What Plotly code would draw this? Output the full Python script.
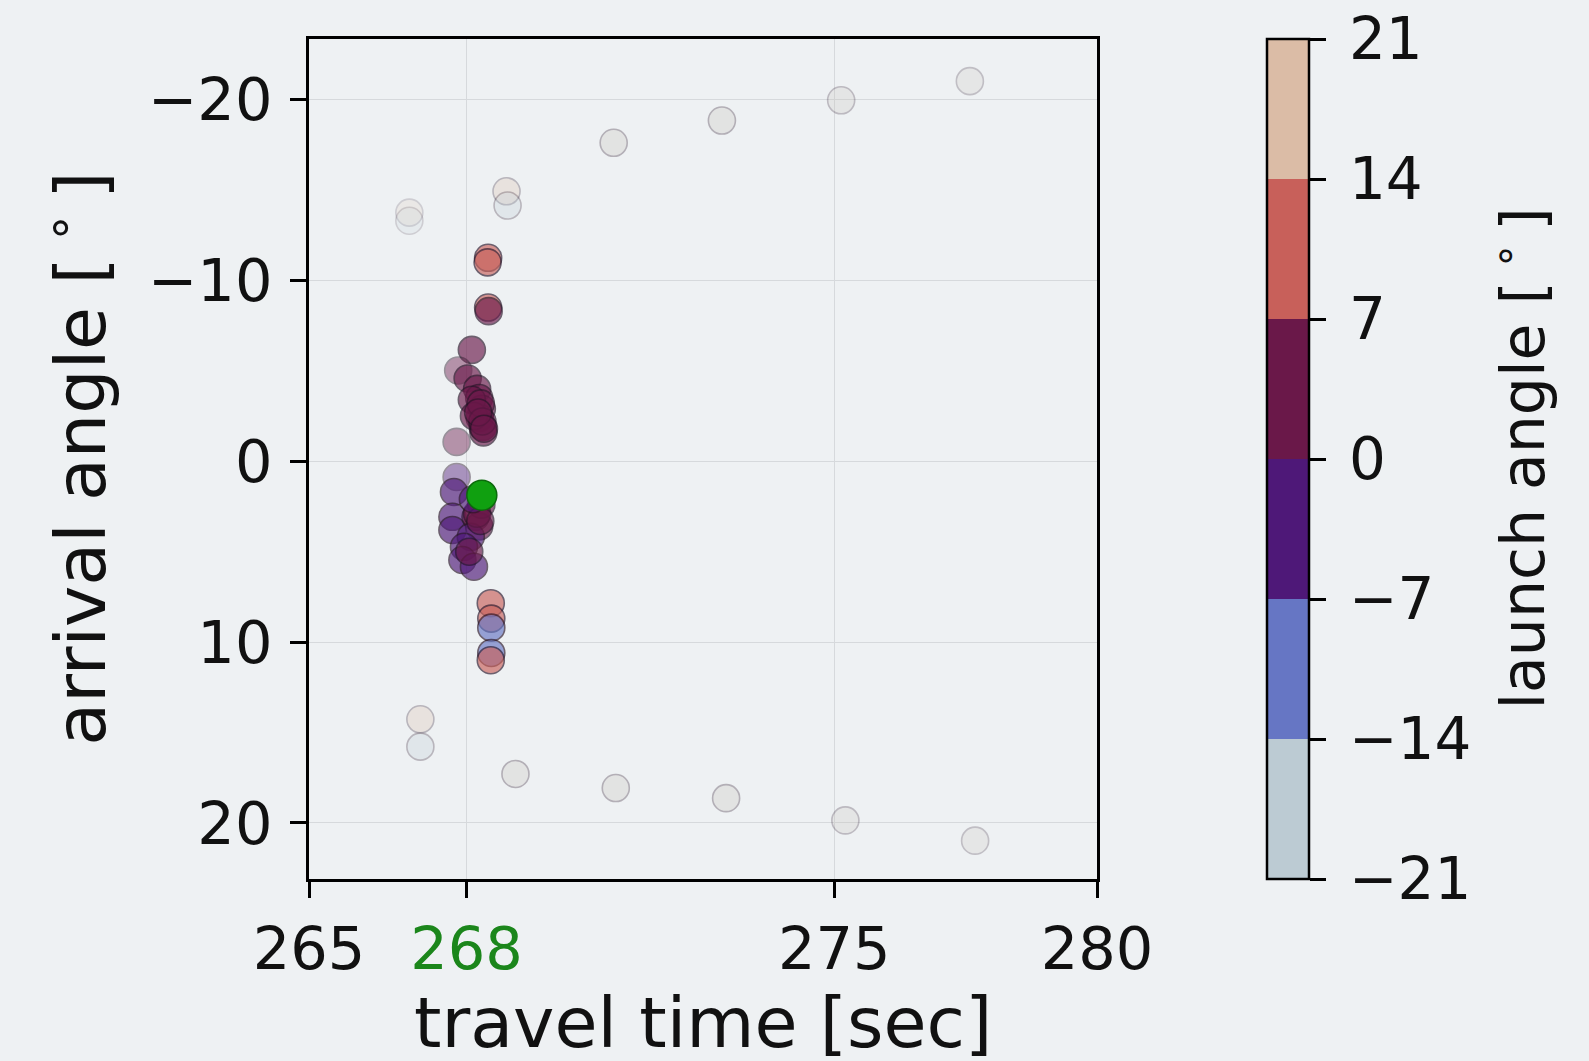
import plotly.graph_objects as go

# Ray-tracing results: travel time [s], arrival angle [deg], launch angle [deg]
# and relative amplitude of each eigenray (weak rays are drawn faded).
travel_time = [
    # weak, steep rays (upper branch)
    266.91, 266.91, 268.76, 268.78, 270.80, 270.80, 272.86, 272.86,
    275.13, 275.13, 277.58, 277.58,
    # weak, steep rays (lower branch)
    267.12, 267.12, 268.93, 268.93, 270.84, 270.84, 272.94, 272.94,
    275.21, 275.21, 277.68, 277.68,
    # main arrival cluster
    268.41, 268.40, 268.41, 268.42, 268.10, 267.84, 268.02, 268.20,
    268.24, 268.29, 268.25, 268.31, 268.32, 268.10, 268.14, 267.81,
    267.81, 267.76, 267.73, 267.73, 268.17, 268.24, 268.08, 267.95,
    267.92, 268.14, 268.28, 268.46, 268.47, 268.47, 268.47, 268.46,
    268.27, 268.30, 268.22, 268.33, 268.20, 268.26, 268.12, 268.05,
]
arrival_angle = [
    -13.75, -13.30, -14.93, -14.14, -17.61, -17.61, -18.84, -18.84,
    -19.96, -19.96, -21.02, -21.02,
    14.27, 15.78, 17.29, 17.29, 18.07, 18.07, 18.63, 18.63,
    19.86, 19.86, 20.98, 20.98,
    -11.25, -11.00, -8.50, -8.30, -6.16, -5.02, -4.58, -4.00,
    -3.50, -2.90, -2.40, -1.90, -1.60, -3.40, -2.50, -1.07,
    0.87, 1.70, 3.07, 3.80, 3.07, 3.60, 4.18, 4.73,
    5.46, 5.83, 2.40, 7.85, 8.70, 9.20, 10.60, 11.00,
    -3.20, -2.20, -2.70, -1.80, 2.90, 3.30, 2.10, 5.00,
]
launch_angle = [
    18, -18, 17, -17, 19, -19, 19, -19,
    20, -20, 20, -20,
    17, -17, 18, -18, 19, -19, 19, -19,
    20, -20, 20, -20,
    10, 12, 8, 5, 4, 3, 3, 2,
    2, 1, 2, 1, 1, 3, 2, 2,
    -2, -3, -4, -5, 1, 2, -1, -2,
    -4, -3, 1, 9, 10, -9, -10, 11,
    1, 1, 2, 1, 1, 2, -1, 1,
]
amplitude = [
    0.10, 0.10, 0.30, 0.30, 0.10, 0.10, 0.10, 0.10,
    0.05, 0.05, 0.03, 0.03,
    0.30, 0.30, 0.10, 0.10, 0.10, 0.10, 0.10, 0.10,
    0.05, 0.05, 0.03, 0.03,
    1.0, 1.0, 1.0, 1.0, 1.0, 0.6, 1.0, 1.0,
    1.0, 1.0, 1.0, 1.0, 1.0, 1.0, 1.0, 0.6,
    0.6, 1.0, 1.0, 1.0, 1.0, 1.0, 1.0, 1.0,
    1.0, 1.0, 1.0, 1.0, 1.0, 1.0, 1.0, 1.0,
    1.0, 1.0, 1.0, 1.0, 1.0, 1.0, 1.0, 1.0,
]

# Observed arrival
observed_time = [268.29]
observed_angle = [1.88]

x_ticks = [265, 268, 275, 280]
y_ticks = [-20, -10, 0, 10, 20]
cbar_ticks = [-21, -14, -7, 0, 7, 14, 21]

# Discrete twilight-like palette, one colour per 7-degree bin
bin_colors = ["#bccbd3", "#6676c4", "#4e1878", "#6a1849", "#c8605a", "#dbbca6"]
n_bins = len(bin_colors)
colorscale = []
for i, c in enumerate(bin_colors):
    colorscale.append([i / n_bins, c])
    colorscale.append([(i + 1) / n_bins, c])

FONT = "DejaVu Sans"
BG = "#eef1f3"


def minus(v):
    return str(v).replace("-", "\u2212")


opacity = [0.10 + 0.55 * a for a in amplitude]

fig = go.Figure()
fig.add_trace(go.Scatter(
    x=travel_time, y=arrival_angle, mode="markers",
    marker=dict(
        size=27, color=launch_angle, colorscale=colorscale,
        cmin=-21, cmax=21, opacity=opacity,
        line=dict(color="rgb(40,20,40)", width=1.6),
        showscale=True,
        colorbar=dict(
            tickmode="array", tickvals=cbar_ticks,
            ticktext=["\u2009" + minus(v) for v in cbar_ticks],
            ticks="outside", ticklen=16, tickwidth=2.5, tickcolor="black",
            tickfont=dict(family=FONT, size=58, color="#111111"),
            thicknessmode="pixels", thickness=42,
            lenmode="fraction", len=1.0, y=0.5, yanchor="middle",
            xref="container", x=1267 / 1589, xanchor="left",
            xpad=0, ypad=0, outlinewidth=2.5, outlinecolor="black",
        ),
    ),
    showlegend=False, hoverinfo="skip",
))
fig.add_trace(go.Scatter(
    x=observed_time, y=observed_angle, mode="markers",
    marker=dict(size=30, color="#10a010", line=dict(color="#0c6a0c", width=1.5)),
    showlegend=False, hoverinfo="skip",
))

axis_common = dict(
    showline=True, linecolor="black", linewidth=2.5, mirror=True,
    ticks="outside", ticklen=16, tickwidth=2.5, tickcolor="black",
    showgrid=True, gridcolor="#d6d9dc", gridwidth=1.2,
    zeroline=False, tickfont=dict(family=FONT, size=59, color="#111111"),
)
fig.update_xaxes(
    range=[265, 280], tickmode="array", tickvals=x_ticks,
    ticktext=[("<span style='color:#1b861b'>%d</span>" % v) if v == 268 else str(v)
              for v in x_ticks],
    ticklabelstandoff=0, **axis_common,
)
fig.update_yaxes(
    range=[23.1, -23.35], tickmode="array", tickvals=y_ticks,
    ticktext=[minus(v) for v in y_ticks],
    ticklabelstandoff=6, **axis_common,
)

deg = "[\u2009<sup>\u2218</sup>\u2009]"
fig.add_annotation(text="travel time [sec]", xref="paper", yref="paper",
                   x=0.5, y=-0.172, showarrow=False, xanchor="center", yanchor="middle",
                   font=dict(family=FONT, size=70, color="#111111"))
fig.add_annotation(text="arrival angle " + deg, xref="paper", yref="paper",
                   x=-0.296, y=0.5, textangle=-90, showarrow=False,
                   xanchor="center", yanchor="middle",
                   font=dict(family=FONT, size=70, color="#111111"))
fig.add_annotation(text="launch angle " + deg, xref="paper", yref="paper",
                   x=1.535, y=0.5, textangle=-90, showarrow=False,
                   xanchor="center", yanchor="middle",
                   font=dict(family=FONT, size=60, color="#111111"))

fig.update_layout(
    width=1589, height=1061,
    margin=dict(l=309, r=492, t=39, b=182),
    paper_bgcolor=BG, plot_bgcolor=BG,
    font=dict(family=FONT),
)

fig.write_html("out.html")
